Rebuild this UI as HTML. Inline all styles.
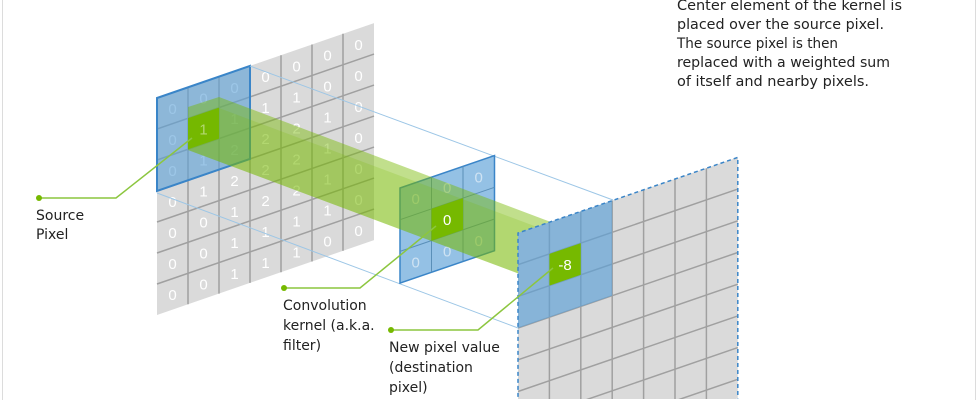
<!DOCTYPE html>
<html><head><meta charset="utf-8"><style>
html,body{margin:0;padding:0;background:#fff;overflow:hidden;width:978px;height:400px;}
svg{display:block;font-family:"Liberation Sans",sans-serif;overflow:hidden;}
.lab{font-family:"DejaVu Sans","Liberation Sans",sans-serif;}
</style></head><body>
<svg width="978" height="400" viewBox="0 0 978 400" xmlns="http://www.w3.org/2000/svg">
<defs><clipPath id="c"><rect x="0" y="0" width="978" height="399"/></clipPath></defs>
<path d="M2.5 0V400M975.5 0V400" stroke="#dcdcdc" stroke-width="1"/>

<!-- Source grid -->
<g transform="matrix(31,-10.7,0,31,157,98)">
 <rect x="0" y="0" width="7" height="7" fill="#dadada"/>
 <path vector-effect="non-scaling-stroke" stroke="#a0a0a0" stroke-width="1.5" fill="none" d="M1 0V7M2 0V7M3 0V7M4 0V7M5 0V7M6 0V7M0 1H7M0 2H7M0 3H7M0 4H7M0 5H7M0 6H7"/>
</g>
<g fill="#fff" font-size="15" text-anchor="middle">
 <g transform="translate(172.5,114.2)"><text y="0">0</text><text y="31">0</text><text y="62">0</text><text y="93">0</text><text y="124">0</text><text y="155">0</text><text y="186">0</text></g>
 <g transform="translate(203.5,103.5)"><text y="62">1</text><text y="93">1</text><text y="124">0</text><text y="155">0</text><text y="186">0</text><text y="0">0</text></g>
 <g transform="translate(234.5,92.8)"><text y="0">0</text><text y="31">1</text><text y="62">2</text><text y="93">2</text><text y="124">1</text><text y="155">1</text><text y="186">1</text></g>
 <g transform="translate(265.5,82.1)"><text y="0">0</text><text y="31">1</text><text y="62">2</text><text y="93">2</text><text y="124">2</text><text y="155">1</text><text y="186">1</text></g>
 <g transform="translate(296.5,71.4)"><text y="0">0</text><text y="31">1</text><text y="62">2</text><text y="93">2</text><text y="124">2</text><text y="155">1</text><text y="186">1</text></g>
 <g transform="translate(327.5,60.7)"><text y="0">0</text><text y="31">0</text><text y="62">1</text><text y="93">1</text><text y="124">1</text><text y="155">1</text><text y="186">0</text></g>
 <g transform="translate(358.5,50)"><text y="0">0</text><text y="31">0</text><text y="62">0</text><text y="93">0</text><text y="124">0</text><text y="155">0</text><text y="186">0</text></g>
</g>
<g transform="matrix(31,-10.7,0,31,157,98)">
 <rect x="0" y="0" width="3" height="3" fill="rgba(90,160,215,0.6)" stroke="#3a85c8" stroke-width="2" vector-effect="non-scaling-stroke"/>
 <rect x="1" y="1" width="1" height="1" fill="#76b900"/>
</g>
<text x="203.5" y="134.5" fill="#fff" font-size="15" text-anchor="middle">1</text>

<!-- projection lines -->
<g stroke="#9cc6e6" stroke-width="1" fill="none">
 <line x1="250" y1="66" x2="613" y2="200"/>
 <line x1="157" y1="193" x2="518" y2="328"/>
</g>

<!-- Kernel -->
<g transform="matrix(31.5,-10.8,0,31.7,400,188)">
 <rect x="0" y="0" width="3" height="3" fill="rgba(90,160,215,0.65)" stroke="#3a85c8" stroke-width="1.5" vector-effect="non-scaling-stroke"/>
 <path vector-effect="non-scaling-stroke" stroke="#5a8fb8" stroke-width="1" d="M1 0V3M2 0V3M0 1H3M0 2H3"/>
</g>
<g fill="#cfe3f3" font-size="15" text-anchor="middle">
 <text x="415.7" y="204">0</text><text x="447.2" y="193.2">0</text><text x="478.7" y="182.4">0</text>
 <text x="415.7" y="267.4">0</text><text x="447.2" y="256.6">0</text><text x="478.7" y="245.8">0</text>
</g>

<!-- green beam -->
<polygon points="188,107 219,97 580,233 580,275 549,285 188,150" fill="rgba(118,185,0,0.45)"/>
<polygon points="188,118 219,108 580,243 580,275 549,285 188,150" fill="rgba(118,185,0,0.2)"/>

<!-- kernel center -->
<g transform="matrix(31.5,-10.8,0,31.7,400,188)">
 <rect x="1" y="1" width="1" height="1" fill="#76b900"/>
</g>
<text x="447.2" y="225" fill="#fff" font-size="15" text-anchor="middle">0</text>

<!-- Destination grid -->
<g clip-path="url(#c)">
<g transform="matrix(31.4,-10.8,0,31.7,518,233)">
 <rect x="0" y="0" width="7" height="7.6" fill="#dadada"/>
 <path vector-effect="non-scaling-stroke" stroke="#a0a0a0" stroke-width="1.5" d="M1 0V7.6M2 0V7.6M3 0V7.6M4 0V7.6M5 0V7.6M6 0V7.6M0 1H7M0 2H7M0 3H7M0 4H7M0 5H7M0 6H7M0 7H7"/>
 <rect x="0" y="0" width="3" height="3" fill="rgba(90,160,215,0.65)"/>
 <path d="M0 7.6V0H7V7.6" fill="none" stroke="#3a85c8" stroke-width="1.5" stroke-dasharray="4 3" vector-effect="non-scaling-stroke"/>
 <rect x="1" y="1" width="1" height="1" fill="#76b900"/>
</g>
</g>
<text x="565" y="270" fill="#fff" font-size="15" text-anchor="middle">-8</text>

<!-- callouts -->
<g stroke="#8cc63f" stroke-width="1.5" fill="none">
 <polyline points="39,198 116,198 192,138"/>
 <polyline points="284,288 360,288 436,226"/>
 <polyline points="391,330 478,330 553,268"/>
</g>
<g fill="#76b900">
 <circle cx="39" cy="198" r="3"/><circle cx="284" cy="288" r="3"/><circle cx="391" cy="330" r="3"/>
</g>

<g class="lab" fill="#222" font-size="14">
 <text x="36" y="220">Source</text>
 <text x="36" y="239">Pixel</text>
 <text x="283" y="310">Convolution</text>
 <text x="283" y="330">kernel (a.k.a.</text>
 <text x="283" y="350">filter)</text>
 <text x="389" y="352">New pixel value</text>
 <text x="389" y="372">(destination</text>
 <text x="389" y="392">pixel)</text>
</g>
<g class="lab" fill="#222" font-size="14">
 <text x="677" y="10" textLength="225" lengthAdjust="spacingAndGlyphs">Center element of the kernel is</text>
 <text x="677" y="29" textLength="207" lengthAdjust="spacingAndGlyphs">placed over the source pixel.</text>
 <text x="677" y="48" textLength="161" lengthAdjust="spacingAndGlyphs">The source pixel is then</text>
 <text x="677" y="67" textLength="213" lengthAdjust="spacingAndGlyphs">replaced with a weighted sum</text>
 <text x="677" y="86" textLength="192" lengthAdjust="spacingAndGlyphs">of itself and nearby pixels.</text>
</g>
</svg>
</body></html>
